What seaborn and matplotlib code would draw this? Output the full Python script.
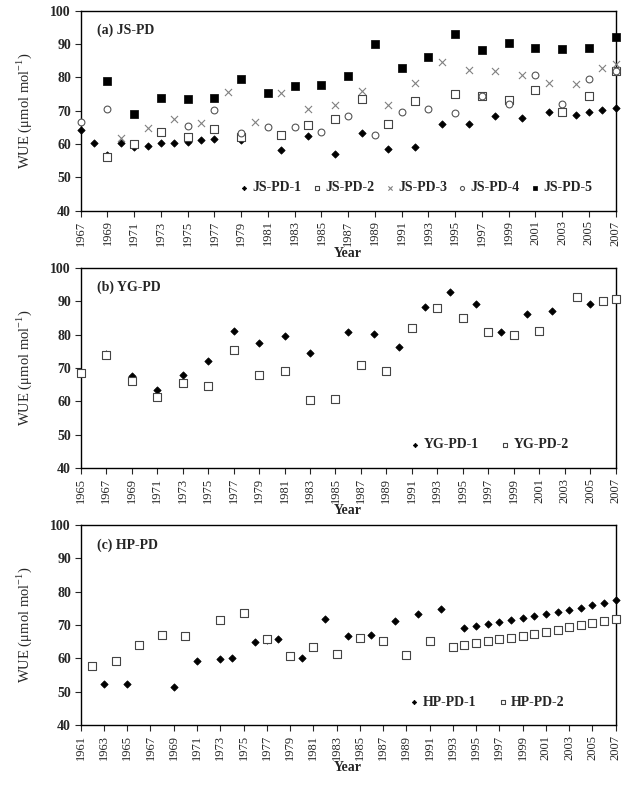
import numpy as np
import pandas as pd
import seaborn as sns
from matplotlib import pyplot as plt

# ---- panel (a) JS-PD ----
js1_year = [1967, 1968, 1969, 1970, 1971, 1972, 1973, 1974, 1975, 1976, 1977, 1979, 1982, 1984,
            1986, 1988, 1990, 1992, 1994, 1996, 1998, 2000, 2002, 2004, 2005, 2006, 2007]
js1_wue = [64.2, 60.3, 56.6, 60.3, 59.1, 59.5, 60.3, 60.3, 60.7, 61.2, 61.5, 61.3, 58.1, 62.3,
           57.1, 63.4, 58.6, 59.0, 65.9, 65.9, 68.5, 67.7, 69.5, 68.8, 69.5, 70.3, 70.9]
js2_year = [1969, 1971, 1973, 1975, 1977, 1979, 1982, 1984, 1986, 1988, 1990, 1992, 1995, 1997,
            1999, 2001, 2003, 2005, 2007]
js2_wue = [56.1, 60.0, 63.6, 62.0, 64.6, 62.0, 62.8, 65.7, 67.6, 73.6, 65.9, 72.8, 74.9, 74.4,
           73.1, 76.3, 69.7, 74.4, 81.9]
js3_year = [1970, 1972, 1974, 1976, 1978, 1980, 1982, 1984, 1986, 1988, 1990, 1992, 1994, 1996,
            1998, 2000, 2002, 2004, 2006, 2007]
js3_wue = [61.9, 64.9, 67.6, 66.2, 75.6, 66.5, 75.2, 70.6, 71.6, 76.0, 71.8, 78.4, 84.6, 82.1,
           81.9, 80.8, 78.3, 77.9, 82.7, 84.0]
js4_year = [1967, 1969, 1975, 1977, 1979, 1981, 1983, 1985, 1987, 1989, 1991, 1993, 1995, 1997,
            1999, 2001, 2003, 2005, 2007]
js4_wue = [66.6, 70.4, 65.5, 70.1, 63.2, 65.2, 65.2, 63.7, 68.5, 62.8, 69.6, 70.6, 69.3, 74.4,
           72.1, 80.7, 71.9, 79.5, 82.0]
js5_year = [1969, 1971, 1973, 1975, 1977, 1979, 1981, 1983, 1985, 1987, 1989, 1991, 1993, 1995,
            1997, 1999, 2001, 2003, 2005, 2007]
js5_wue = [79.0, 69.0, 73.8, 73.4, 73.8, 79.4, 75.3, 77.5, 77.6, 80.4, 90.0, 82.8, 86.1, 92.9,
           88.2, 90.4, 88.9, 88.5, 88.7, 92.2]

# ---- panel (b) YG-PD ----
yg1_year = [1967, 1969, 1971, 1973, 1975, 1977, 1979, 1981, 1983, 1986, 1988, 1990, 1992, 1994,
            1996, 1998, 2000, 2002, 2005]
yg1_wue = [74.1, 67.6, 63.4, 68.0, 72.1, 81.2, 77.4, 79.5, 74.6, 80.7, 80.3, 76.2, 88.3, 92.8,
           89.2, 80.7, 86.2, 86.9, 89.2]
yg2_year = [1965, 1967, 1969, 1971, 1973, 1975, 1977, 1979, 1981, 1983, 1985, 1987, 1989, 1991,
            1993, 1995, 1997, 1999, 2001, 2004, 2006, 2007]
yg2_wue = [68.5, 73.8, 66.0, 61.4, 65.4, 64.7, 75.5, 68.0, 69.2, 60.3, 60.7, 70.9, 69.2, 82.0,
           87.8, 85.0, 80.8, 79.8, 81.2, 91.1, 90.1, 90.7]

# ---- panel (c) HP-PD ----
hp1_year = [1963, 1965, 1969, 1971, 1973, 1974, 1976, 1977, 1978, 1980, 1982, 1984, 1986, 1988,
            1990, 1992, 1994, 1995, 1996, 1997, 1998, 1999, 2000, 2001, 2002, 2003, 2004, 2005,
            2006, 2007]
hp1_wue = [52.2, 52.4, 51.5, 59.3, 59.8, 60.2, 65.0, 65.4, 65.9, 60.0, 71.7, 66.6, 67.0, 71.2,
           73.2, 74.8, 69.2, 69.7, 70.4, 70.9, 71.4, 72.1, 72.7, 73.3, 74.0, 74.5, 75.2, 76.0,
           76.6, 77.4]
hp2_year = [1962, 1964, 1966, 1968, 1970, 1973, 1975, 1977, 1979, 1981, 1983, 1985, 1987, 1989,
            1991, 1993, 1994, 1995, 1996, 1997, 1998, 1999, 2000, 2001, 2002, 2003, 2004, 2005,
            2006, 2007]
hp2_wue = [57.8, 59.1, 64.1, 67.0, 66.8, 71.6, 73.7, 65.9, 60.6, 63.3, 61.4, 66.1, 65.3, 61.0,
           65.1, 63.4, 63.9, 64.7, 65.3, 65.7, 66.2, 66.8, 67.4, 68.0, 68.6, 69.4, 70.1, 70.5,
           71.2, 71.8]

sns.set_style('ticks')
plt.rcParams['font.family'] = ['Liberation Serif', 'DejaVu Serif']

# marker styles
DIA = dict(marker='D', s=14, color='black', edgecolor='black', linewidth=0.5)
OSQ = dict(marker='s', s=30, facecolor='white', edgecolor='#444444', linewidth=0.8)
XX = dict(marker='x', s=26, color='#808080', linewidth=0.8)
OCI = dict(marker='o', s=24, facecolor='white', edgecolor='#555555', linewidth=0.8)
FSQ = dict(marker='s', s=30, color='black', edgecolor='black', linewidth=0.5)

fig = plt.figure(figsize=(6.34, 7.93), dpi=100)
ax_a = fig.add_axes([0.1273, 0.7343, 0.8438, 0.2522])
ax_b = fig.add_axes([0.1273, 0.4095, 0.8438, 0.2530])
ax_c = fig.add_axes([0.1273, 0.0858, 0.8438, 0.2522])


def draw(ax, series, xmin, title, leg_pos, ncol, colsp):
    for yrs, vals, lab, st in series:
        sns.scatterplot(x=yrs, y=vals, ax=ax, label=lab, clip_on=False, zorder=3, **st)
    ax.set_xlim(xmin, 2007)
    ax.set_ylim(40, 100)
    ax.set_yticks(range(40, 101, 10))
    ax.set_xticks(range(xmin, 2008, 2))
    ax.set_xticklabels([str(y) for y in range(xmin, 2008, 2)], rotation=90, fontsize=9)
    for t in ax.get_yticklabels():
        t.set_fontweight('bold')
        t.set_fontsize(10)
    ax.tick_params(direction='out', length=4, width=0.8, pad=3)
    for sp in ax.spines.values():
        sp.set_visible(True)
        sp.set_linewidth(1.0)
        sp.set_color('black')
    ax.set_ylabel('WUE (μmol mol$^{\\mathregular{-1}}$)', fontsize=10.5)
    ax.yaxis.set_label_coords(-0.088, 0.5)
    ax.set_xlabel('Year', fontsize=10, fontweight='bold')
    ax.xaxis.set_label_coords(0.5, -0.18)
    ax.text(0.03, 0.9, title, transform=ax.transAxes, fontsize=10, fontweight='bold', va='center')
    ax.legend(loc='center', bbox_to_anchor=leg_pos, ncol=ncol, frameon=False,
              prop={'weight': 'bold', 'size': 10}, markerscale=0.6,
              handlelength=0.6, handletextpad=0.3, columnspacing=colsp, borderaxespad=0)


draw(ax_a, [(js1_year, js1_wue, 'JS-PD-1', DIA),
            (js2_year, js2_wue, 'JS-PD-2', OSQ),
            (js3_year, js3_wue, 'JS-PD-3', XX),
            (js4_year, js4_wue, 'JS-PD-4', OCI),
            (js5_year, js5_wue, 'JS-PD-5', FSQ)],
     1967, '(a) JS-PD', (0.627, 0.115), 5, 0.8)

draw(ax_b, [(yg1_year, yg1_wue, 'YG-PD-1', DIA),
            (yg2_year, yg2_wue, 'YG-PD-2', OSQ)],
     1965, '(b) YG-PD', (0.765, 0.117), 2, 1.6)

draw(ax_c, [(hp1_year, hp1_wue, 'HP-PD-1', DIA),
            (hp2_year, hp2_wue, 'HP-PD-2', OSQ)],
     1961, '(c) HP-PD', (0.76, 0.113), 2, 1.6)

plt.savefig('out.png', dpi=100)
